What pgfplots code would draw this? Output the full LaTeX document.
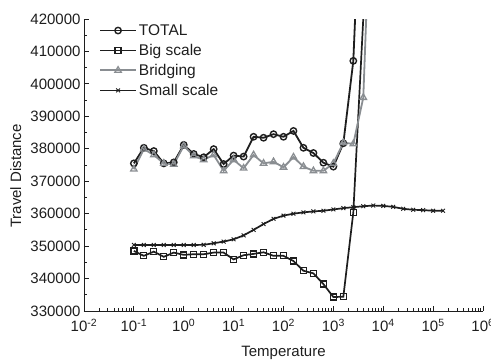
\documentclass[border=0pt]{standalone}
\usepackage{pgfplots}
\pgfplotsset{compat=1.18}
\usepackage{pgfplotstable}
\usepackage{fontspec}
\setmainfont{Liberation Sans}
\definecolor{dk}{RGB}{30,30,30}
\definecolor{gr}{RGB}{138,142,146}

\pgfplotstableread{
x y
0.1 375500
0.158489 380300
0.251189 379300
0.398107 375500
0.630957 375800
1 381200
1.58489 378400
2.51189 377400
3.98107 379900
6.30957 375300
10 377900
15.8489 377600
25.1189 383700
39.8107 383400
63.0957 384500
100 383700
158.489 385500
251.189 380300
398.107 378700
630.957 375700
1000 374500
1584.89 381700
2511.89 407100
3981.07 480000
}\total

\pgfplotstableread{
x y
0.1 348500
0.158489 347000
0.251189 348300
0.398107 346700
0.630957 348000
1 347300
1.58489 347500
2.51189 347500
3.98107 348000
6.30957 348000
10 345900
15.8489 347200
25.1189 347600
39.8107 348100
63.0957 347000
100 347000
158.489 345400
251.189 342400
398.107 341600
630.957 338300
1000 334300
1584.89 334400
2511.89 360400
3981.07 420300
}\big

\pgfplotstableread{
x y
0.1 373700
0.158489 379900
0.251189 378100
0.398107 375500
0.630957 375200
1 380900
1.58489 377800
2.51189 376600
3.98107 378100
6.30957 373200
10 376600
15.8489 374000
25.1189 378100
39.8107 375500
63.0957 376000
100 374300
158.489 377400
251.189 374500
398.107 373200
630.957 373200
1000 375500
1584.89 381900
2511.89 381500
3981.07 395800
6309.57 480000
}\bridge

\pgfplotstableread{
x y
0.1 350350
0.158489 350350
0.251189 350350
0.398107 350350
0.630957 350350
1 350350
1.58489 350350
2.51189 350400
3.98107 350870
6.30957 351400
10 352100
15.8489 353300
25.1189 355000
39.8107 356800
63.0957 358400
100 359400
158.489 360000
251.189 360400
398.107 360700
630.957 360900
1000 361300
1584.89 361700
2511.89 362000
3981.07 362300
6309.57 362500
10000 362400
15848.9 362100
25118.9 361500
39810.7 361200
63095.7 361100
100000 360900
158489 360900
}\small

\begin{document}
\begin{tikzpicture}
\begin{semilogxaxis}[
  name=ax,
  scale only axis,
  width=399pt, height=292pt,
  xmin=1e-2, xmax=1e6,
  ymin=330000, ymax=420000,
  axis lines=left,
  axis line style={-, line width=0.9pt, dk},
  tick align=inside,
  major tick length=5pt,
  minor tick length=3pt,
  every tick/.style={dk, line width=0.8pt},
  xtick={1e-2,1e-1,1,1e1,1e2,1e3,1e4,1e5,1e6},
  xticklabels={10\textsuperscript{-2},10\textsuperscript{-1},10\textsuperscript{0},10\textsuperscript{1},10\textsuperscript{2},10\textsuperscript{3},10\textsuperscript{4},10\textsuperscript{5},10\textsuperscript{6}},
  x tick label style={anchor=base, yshift=-21pt},
  ytick={330000,340000,...,420000},
  minor y tick num=1,
  scaled y ticks=false,
  y tick label style={/pgf/number format/fixed, /pgf/number format/1000 sep={}, /pgf/number format/assume math mode=true},
  font=\fontsize{15}{18}\selectfont,
  ticklabel style={font=\fontsize{15}{18}\selectfont, dk},
  xlabel={Temperature},
  ylabel={Travel Distance},
  every axis x label/.style={at={(axis description cs:0.5,-0.1575)}, anchor=base, font=\fontsize{15}{18}\selectfont, dk},
  every axis y label/.style={at={(axis description cs:-0.171,0.462)}, rotate=90, anchor=center, font=\fontsize{15}{18}\selectfont, dk},
  legend style={draw=none, fill=none, at={(axis description cs:0.03,0.996)}, anchor=north west, font=\fontsize{15.5}{18}\selectfont, row sep=3.3pt, text=dk},
  legend cell align=left,
  legend image code/.code={\draw[mark repeat=2,mark phase=2,#1] plot coordinates {(0pt,0pt) (18pt,0pt) (36pt,0pt)};},
]
\addplot[dk, line width=1.8pt, mark=o, mark size=3.2pt, mark options={fill=white, line width=1.4pt, solid}] table {\total};
\addlegendentry{TOTAL}
\addplot[dk, line width=1.7pt, mark=square, mark size=3pt, mark options={fill=white, line width=1.3pt, solid}] table {\big};
\addlegendentry{Big scale}
\addplot[gr, line width=1.8pt, mark=triangle, mark size=3.7pt, mark options={fill=white, line width=1.3pt, solid}] table {\bridge};
\addlegendentry{Bridging}
\addplot[dk, line width=1.7pt, mark=x, mark size=2.7pt, mark options={line width=0.9pt, solid}] table {\small};
\addlegendentry{Small scale}
\end{semilogxaxis}
\pgfresetboundingbox
\path[use as bounding box, shift={(ax.south west)}] (-84pt,-50pt) rectangle (407pt,311pt);
\end{tikzpicture}
\end{document}
